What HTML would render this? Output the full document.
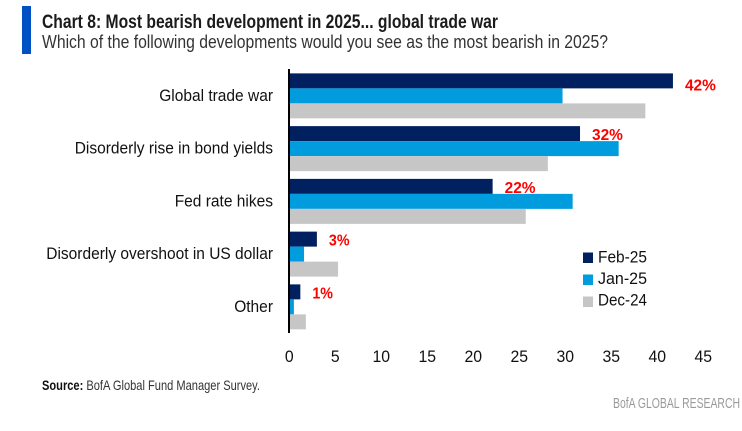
<!DOCTYPE html>
<html lang="en">
<head>
<meta charset="utf-8">
<title>Chart 8: Most bearish development in 2025</title>
<style>
html,body{margin:0;padding:0;background:#fff;width:742px;height:431px;overflow:hidden}
svg{display:block;font-family:"Liberation Sans",sans-serif}
</style>
</head>
<body>
<svg id="chart" width="742" height="431" viewBox="0 0 742 431" xmlns="http://www.w3.org/2000/svg">
  <rect x="22" y="6" width="9" height="48" fill="#0052c4"/>
  <text x="42" y="28" font-size="19" font-weight="700" fill="#1b1b1b" textLength="456" lengthAdjust="spacingAndGlyphs">Chart 8: Most bearish development in 2025... global trade war</text>
  <text x="42" y="48" font-size="18" fill="#333333" textLength="566" lengthAdjust="spacingAndGlyphs">Which of the following developments would you see as the most bearish in 2025?</text>
  <g id="plot"></g>
  <text x="42" y="390" font-size="14" fill="#333333" textLength="218" lengthAdjust="spacingAndGlyphs"><tspan font-weight="700" fill="#111111">Source:</tspan> BofA Global Fund Manager Survey.</text>
  <text x="613" y="408" font-size="15" fill="#9a9a9a" textLength="127" lengthAdjust="spacingAndGlyphs">BofA GLOBAL RESEARCH</text>
</svg>
<script>
const categories = ["Global trade war", "Disorderly rise in bond yields", "Fed rate hikes", "Disorderly overshoot in US dollar", "Other"];
const seriesNames = ["Feb-25", "Jan-25", "Dec-24"];
const feb25 = [41.7, 31.6, 22.1, 3.0, 1.2];
const jan25 = [29.7, 35.8, 30.8, 1.6, 0.5];
const dec24 = [38.7, 28.1, 25.7, 5.3, 1.8];
const febLabels = ["42%", "32%", "22%", "3%", "1%"];
const xTicks = [0, 5, 10, 15, 20, 25, 30, 35, 40, 45];

const svgNS = "http://www.w3.org/2000/svg";
const plot = document.getElementById("plot");
const colors = ["#002060", "#009cde", "#c6c6c6"];
const allSeries = [feb25, jan25, dec24];
const plotTop = 69.5, bandH = 52.75, barH = 15;

function xScale(v) { return 289.3 + v * 9.2; }
function bandTop(i) { return plotTop + i * bandH; }
function make(tag, attrs, text) {
  const el = document.createElementNS(svgNS, tag);
  for (const k in attrs) el.setAttribute(k, attrs[k]);
  if (text !== undefined) el.textContent = text;
  return el;
}

categories.forEach(function (cat, i) {
  const mid = bandTop(i) + bandH / 2;
  const label = make("text", {
    x: 273, y: mid + 5, "text-anchor": "end", "font-size": 16.5, fill: "#111111"
  }, cat);
  
  
  plot.appendChild(label);
  label.setAttribute("textLength", label.getComputedTextLength() * 0.94);
  label.setAttribute("lengthAdjust", "spacingAndGlyphs");

  allSeries.forEach(function (values, s) {
    const bar = make("rect", {
      x: xScale(0), y: mid - barH * 1.5 + s * barH,
      width: xScale(values[i]) - xScale(0), height: barH, fill: colors[s]
    });
    
    
    plot.appendChild(bar);
  });

  const febTop = mid - barH * 1.5;
  const valueLabel = make("text", {
    x: xScale(feb25[i]) + 12, y: febTop + (i === 0 ? 17 : 14),
    "font-size": 16, "font-weight": 700, fill: "#ff0000",
    textLength: febLabels[i].length * 10.3, lengthAdjust: "spacingAndGlyphs"
  }, febLabels[i]);
  
  
  plot.appendChild(valueLabel);
});

const axisLine = make("line", { x1: 289, x2: 289, y1: 69, y2: 333, stroke: "#000000", "stroke-width": 2 });


plot.appendChild(axisLine);

xTicks.forEach(function (t) {
  const digits = String(t).length;
  const tick = make("text", {
    x: xScale(t), y: 362, "text-anchor": "middle", "font-size": 16.5, fill: "#111111",
    textLength: digits * 8.8, lengthAdjust: "spacingAndGlyphs"
  }, String(t));
  
  
  plot.appendChild(tick);
});

seriesNames.forEach(function (name, s) {
  const swatch = make("rect", { x: 583, y: 252.5 + s * 22, width: 10, height: 10.5, fill: colors[s] });
  
  
  plot.appendChild(swatch);
  const entry = make("text", {
    x: 598, y: 262.5 + s * 21.5, "font-size": 17, fill: "#111111",
    textLength: 49, lengthAdjust: "spacingAndGlyphs"
  }, name);
  
  
  plot.appendChild(entry);
});
</script>
</body>
</html>
